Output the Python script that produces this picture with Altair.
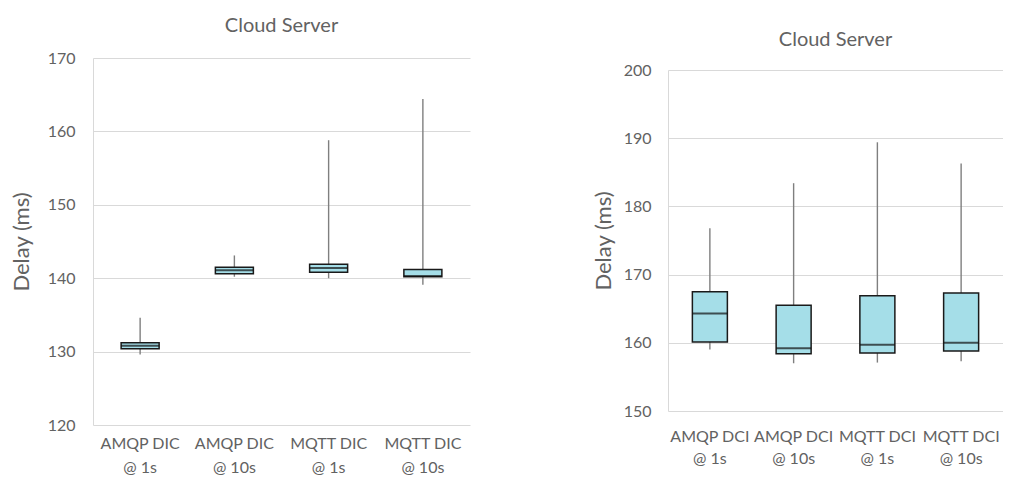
import altair as alt
import pandas as pd

FONT = "Lato"
TXT = "#626262"

# Left panel (DIC)
left_cats = ["AMQP DIC\n@ 1s", "AMQP DIC\n@ 10s", "MQTT DIC\n@ 1s", "MQTT DIC\n@ 10s"]
left_min = [129.6, 140.2, 140.0, 139.1]
left_q1 = [130.4, 140.6, 140.8, 140.2]
left_med = [130.8, 141.1, 141.4, 140.3]
left_q3 = [131.2, 141.5, 141.9, 141.2]
left_max = [134.6, 143.1, 158.8, 164.4]
left_ticks = [120, 130, 140, 150, 160, 170]

# Right panel (DCI)
right_cats = ["AMQP DCI\n@ 1s", "AMQP DCI\n@ 10s", "MQTT DCI\n@ 1s", "MQTT DCI\n@ 10s"]
right_min = [159.0, 157.0, 157.1, 157.3]
right_q1 = [160.1, 158.4, 158.5, 158.8]
right_med = [164.3, 159.2, 159.7, 160.0]
right_q3 = [167.5, 165.5, 166.9, 167.3]
right_max = [176.8, 183.4, 189.4, 186.3]
right_ticks = [150, 160, 170, 180, 190, 200]

title_text = "Cloud Server"
y_title = "Delay (ms)"


def panel(cats, mn, q1, med, q3, mx, ticks, w, h, top_gap, box_w,
          title_offset, title_dy, label_pad, title_pad, xlab_pad, xlab_lh):
    df = pd.DataFrame({"cat": cats, "min": mn, "q1": q1, "med": med, "q3": q3, "max": mx})
    x = alt.X("cat:N", sort=cats, scale=alt.Scale(paddingInner=0, paddingOuter=0),
              axis=alt.Axis(title=None, labelAngle=0, ticks=False, domain=False,
                            labelPadding=xlab_pad, labelLineHeight=xlab_lh, labelFontSize=16,
                            labelExpr="split(datum.label, '\\n')"))
    yscale = alt.Scale(domain=[ticks[0], ticks[-1]], nice=False, zero=False,
                       range=[h, top_gap])
    yaxis = alt.Axis(title=y_title, values=ticks, ticks=False, labelPadding=label_pad,
                     titlePadding=title_pad, domainColor="#d9d9d9", gridColor="#d9d9d9",
                     labelFontSize=16, titleFontSize=22)
    base = alt.Chart(df)
    whisk = base.mark_rule(color="#7f7f7f", strokeWidth=1.4).encode(
        x=x, y=alt.Y("min:Q", scale=yscale, axis=yaxis), y2="max:Q")
    box = base.mark_bar(size=box_w, color="#A5DEE8", stroke="#1a1a1a", strokeWidth=1.5).encode(
        x=x, y=alt.Y("q1:Q"), y2="q3:Q")
    medt = base.mark_tick(size=box_w, thickness=2, color="#111111").encode(
        x=x, y=alt.Y("med:Q"))
    return alt.layer(whisk, box, medt).properties(
        width=w, height=h,
        title=alt.TitleParams(title_text, offset=title_offset, dy=title_dy, anchor="middle"))


left = panel(left_cats, left_min, left_q1, left_med, left_q3, left_max, left_ticks,
             377, 367, 0, 38, 14, 0, 18, 14, 10, 24)
right = panel(right_cats, right_min, right_q1, right_med, right_q3, right_max, right_ticks,
              335, 353, 12, 35, 9, 1, 17, 8, 17, 22)

chart = alt.hconcat(left, right, spacing=122).properties(
    padding={"left": 2, "top": 8, "right": 0, "bottom": 2}
).configure_view(stroke=None).configure_axis(
    labelFont=FONT, titleFont=FONT, labelColor=TXT, titleColor=TXT,
    titleFontWeight="normal", gridWidth=1.2
).configure_title(font=FONT, fontSize=20, fontWeight="normal", color=TXT)

chart.save("out.html", embed_options={"renderer": "svg", "actions": False})
